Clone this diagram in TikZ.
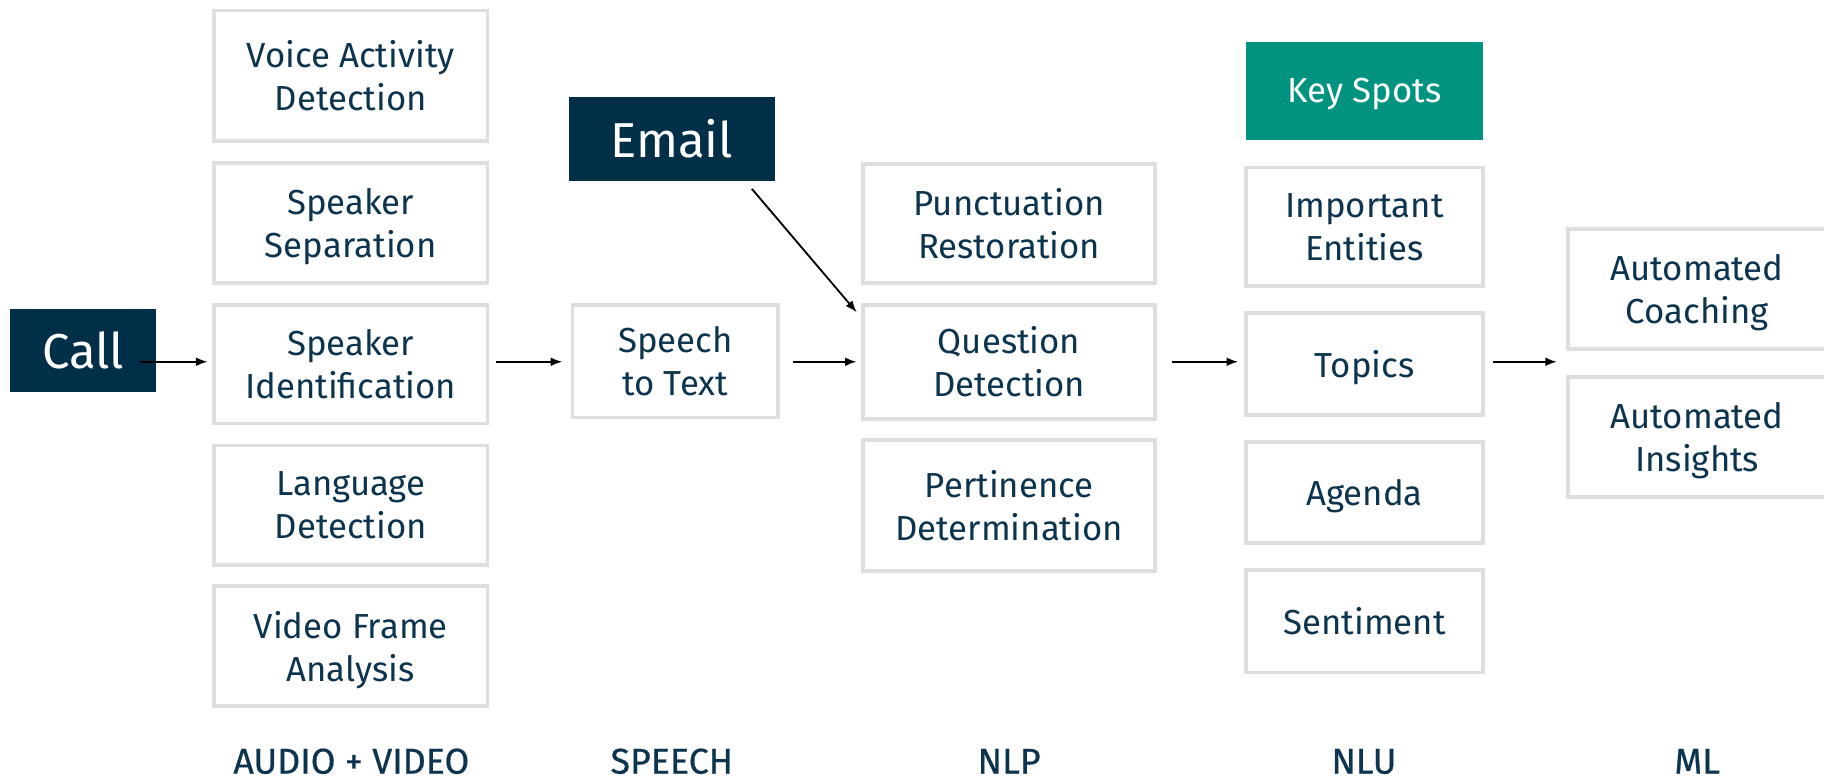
\documentclass[tikz,border=0pt]{standalone}
\usepackage{fontspec}
\setmainfont{Fira Sans}
\newfontfamily\phasefont[FakeBold=0.6]{Fira Sans}
\usetikzlibrary{arrows.meta}
\definecolor{inkblue}{RGB}{12,52,78}
\definecolor{navyfill}{RGB}{2,47,72}
\definecolor{tealfill}{RGB}{0,148,128}
\definecolor{edgegrey}{RGB}{222,222,222}
\begin{document}
\begin{tikzpicture}[x=0.02cm,y=-0.02cm,
  stage/.style={draw=edgegrey, line width=1.8pt, fill=white, text=inkblue,
    align=center, inner sep=0pt, font=\fontsize{17}{21}\selectfont},
  oneline/.style={text depth=0pt},
  source/.style={fill=navyfill, text=white, inner sep=0pt,
    font=\fontsize{24}{28}\selectfont},
  highlight/.style={fill=tealfill, text=white, inner sep=0pt, align=center,
    text depth=0pt, font=\fontsize{17}{21}\selectfont},
  phase/.style={text=inkblue, anchor=base, inner sep=0pt,
    font=\phasefont\fontsize{17.5}{21}\selectfont},
  flow/.style={-{Latex[length=0.2cm,width=0.15cm]}, line width=0.9pt, black}]
\useasboundingbox (0,0) rectangle (1568,672);

% sources
\node[source, minimum width=2.5cm, minimum height=1.42cm] (call) at (71.5,301.5) {Call};
\node[source, minimum width=3.54cm, minimum height=1.46cm] (email) at (577.5,119.5) {Email};

% audio + video
\node[stage, minimum width=4.7cm, minimum height=2.24cm] (vad) at (301.5,65) {Voice Activity\\Detection};
\node[stage, minimum width=4.7cm, minimum height=2.06cm] (spksep) at (301.5,191.5) {Speaker\\Se\smash{p}aration};
\node[stage, minimum width=4.7cm, minimum height=2.04cm] (spkid) at (301.5,313) {Speaker\\Identification};
\node[stage, minimum width=4.7cm, minimum height=2.06cm] (lang) at (301.5,434.5) {Language\\Detection};
\node[stage, minimum width=4.7cm, minimum height=2.06cm] (video) at (301.5,555.5) {Video Frame\\Anal\smash{y}sis};

% speech
\node[stage, minimum width=3.54cm, minimum height=1.94cm] (stt) at (580.5,310.5) {Speech\\to Text};

% nlp
\node[stage, minimum width=5.02cm, minimum height=2.04cm] (punct) at (867.5,192) {Punctuation\\Restoration};
\node[stage, minimum width=5.02cm, minimum height=1.96cm] (qd) at (867.5,311) {Question\\Detection};
\node[stage, minimum width=5.02cm, minimum height=2.26cm] (pert) at (867.5,434.5) {Pertinence\\Determination};

% nlu
\node[highlight, minimum width=4.08cm, minimum height=1.68cm] (keys) at (1173,78) {Key Spots};
\node[stage, minimum width=4.08cm, minimum height=2.04cm] (ent) at (1173,195) {Important\\Entities};
\node[stage, oneline, minimum width=4.08cm, minimum height=1.76cm] (topics) at (1173,313) {Topics};
\node[stage, oneline, minimum width=4.08cm, minimum height=1.74cm] (agenda) at (1173,423.5) {Agenda};
\node[stage, oneline, minimum width=4.08cm, minimum height=1.76cm] (senti) at (1173,534) {Sentiment};

% ml
\node[stage, minimum width=4.44cm, minimum height=2.06cm] (coach) at (1459,248.5) {Automated\\Coachin\smash{g}};
\node[stage, minimum width=4.44cm, minimum height=2.06cm] (insight) at (1459,375.5) {Automated\\Insi\smash{g}hts};

% connectors, all on the row of the question box
\coordinate (callout) at ([xshift=-0.28cm]call.east);
\coordinate (mlin) at (coach.south west |- qd.west);
\coordinate (sidout) at ([xshift=0.12cm]spkid.east);
\coordinate (sttin) at ([xshift=-0.14cm]stt.west);
\coordinate (sttout) at ([xshift=0.22cm]stt.east);
\coordinate (qdout) at ([xshift=0.26cm]qd.east);
\coordinate (topin) at ([xshift=-0.1cm]topics.west);
\coordinate (topout) at ([xshift=0.14cm]topics.east);
\coordinate (sidin) at ([xshift=-0.08cm]spkid.west);
\draw[flow] (callout |- qd.west) -- (sidin |- qd.west);
\draw[flow] (sidout |- qd.west) -- (sttin |- qd.west);
\draw[flow] (sttout |- qd.west) -- ([xshift=-0.08cm]qd.west);
\draw[flow] (qdout) -- (topin |- qd.west);
\draw[flow] (topout |- qd.west) -- ([xshift=-0.16cm]mlin);
\draw[flow] ([xshift=-0.4cm,yshift=-0.12cm]email.south east) -- ([xshift=-0.08cm,yshift=-0.16cm]qd.north west);

% phase labels
\node[phase] (lav) at (302,665) {AUDIO + VIDEO};
\node[phase] (lsp) at (577.5,665) {SPEECH};
\node[phase] (lnlp) at (867.5,665) {NLP};
\node[phase] (lnlu) at (1172.5,665) {NLU};
\node[phase] (lml) at (1459,665) {ML};
\end{tikzpicture}
\end{document}
